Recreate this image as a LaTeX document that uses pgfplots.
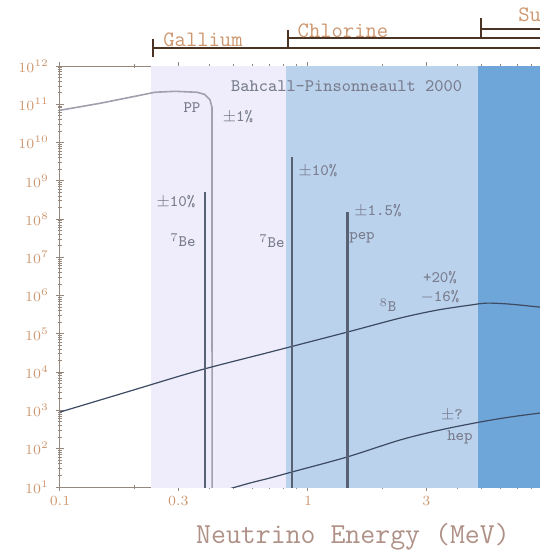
\documentclass[border=0pt]{standalone}
\usepackage{fontspec}
\usepackage{pgfplots}
\pgfplotsset{compat=1.18}

\definecolor{galband}{RGB}{239,237,251}
\definecolor{clband}{RGB}{187,210,237}
\definecolor{skband}{RGB}{111,166,218}
\definecolor{tanc}{RGB}{205,150,110}
\definecolor{brk}{RGB}{75,52,35}
\definecolor{spec}{RGB}{60,74,98}
\definecolor{ppc}{RGB}{160,160,174}
\definecolor{linec}{RGB}{88,98,116}
\definecolor{lab}{RGB}{120,124,140}
\definecolor{axc}{RGB}{150,135,125}
\definecolor{xlab}{RGB}{175,145,135}

\begin{document}
\begin{tikzpicture}
\useasboundingbox (-30pt,-33.5pt) rectangle (240pt,243.5pt);
\clip (-30pt,-33.5pt) rectangle (240pt,243.5pt);
\begin{axis}[
  scale only axis, width=240pt, height=210.5pt,
  xmode=log, ymode=log,
  xmin=0.1, xmax=8.62, ymin=10, ymax=1e12,
  axis x line=box, axis y line=left,
  axis line style={-, draw=axc, line width=0.5pt},
  xtick={0.1,0.3,1,3}, xticklabels={0.1,0.3,1,3},
  minor xtick={0.2,0.4,0.5,0.6,0.7,0.8,0.9,2,4,5,6,7,8},
  ytick={1e1,1e2,1e3,1e4,1e5,1e6,1e7,1e8,1e9,1e10,1e11,1e12},
  tick align=center,
  major tick length=4pt, minor tick length=2pt,
  tick style={draw=axc, line width=0.5pt},
  ticklabel style={text=tanc, font=\scriptsize},
  xticklabel style={yshift=1pt},
  clip=true,
]
% detector thresholds
\addplot[fill=galband, draw=none] coordinates {(0.233,1) (0.233,1e13) (0.814,1e13) (0.814,1)} -- cycle;
\addplot[fill=clband, draw=none] coordinates {(0.814,1) (0.814,1e13) (4.85,1e13) (4.85,1)} -- cycle;
\addplot[fill=skband, draw=none] coordinates {(4.85,1) (4.85,1e13) (20,1e13) (20,1)} -- cycle;

% pp continuum
\addplot[ppc, line width=0.8pt] coordinates {
 (0.1,6.97e10) (0.145,1.06e11) (0.1915,1.52e11) (0.2415,2.06e11)
 (0.2909,2.18e11) (0.3567,2.06e11) (0.3825,1.82e11) (0.4025,1.31e11)
 (0.4101,8.3e10) (0.4105,1)};

% 8B continuum
\addplot[spec, line width=0.6pt, smooth] coordinates {
 (0.1,908) (0.1915,3.21e3) (0.3668,1.13e4) (0.7029,3.35e4)
 (1.436,1.11e5) (2.350,2.59e5) (3.313,4.18e5) (4.499,5.65e5)
 (5.269,6.37e5) (6.523,6.0e5) (8.62,5.01e5)};

% hep continuum
\addplot[spec, line width=0.6pt, smooth] coordinates {
 (0.4627,8.3) (0.5834,12.7) (0.7029,17.2) (0.862,24.7)
 (1.436,60.7) (2.350,169) (3.406,308) (4.937,498)
 (6.523,673) (8.62,855)};

% line sources
\addplot[linec, line width=1.3pt] coordinates {(0.384,1) (0.384,5.0e8)};
\addplot[linec, line width=1.3pt] coordinates {(0.862,1) (0.862,4.2e9)};
\addplot[linec, line width=1.3pt] coordinates {(1.442,1) (1.442,1.5e8)};
\end{axis}

\begin{scope}[shift={(-30pt,243.5pt)}, x=0.5pt, y=-0.5pt]
  % threshold brackets
  \draw[brk, line width=0.8pt] (153,39) -- (153,57);
  \draw[brk, line width=0.8pt] (153,48) -- (545,48);
  \draw[brk, line width=0.8pt] (288,30) -- (288,47);
  \draw[brk, line width=0.8pt] (288,38) -- (545,38);
  \draw[brk, line width=1.2pt] (481,18) -- (481,39);
  \draw[brk, line width=0.8pt] (481,29) -- (545,29);
  \node[text=tanc, font=\fontsize{11}{12}\ttfamily] at (203,40) {Gallium};
  \node[text=tanc, font=\fontsize{11}{12}\ttfamily] at (343,31) {Chlorine};
  \node[text=tanc, font=\fontsize{11}{12}\ttfamily, anchor=west, inner sep=1pt] at (516,15) {Su};

  \node[text=lab, font=\fontsize{8.8}{10}\ttfamily, anchor=west] at (224,86) {Bahcall-Pinsonneault 2000};

  \begin{scope}[every node/.style={text=lab, font=\fontsize{8}{9}\ttfamily}]
    \node at (192,108) {PP};
    \node at (238,117) {$\pm$1\%};
    \node at (176,202) {$\pm$10\%};
    \node at (183,240) {$^7$Be};
    \node at (272,241) {$^7$Be};
    \node at (318,171) {$\pm$10\%};
    \node at (378,211) {$\pm$1.5\%};
    \node at (362,238) {pep};
    \node at (440,278) {+20\%};
    \node at (440,297) {$-$16\%};
    \node at (388,305) {$^8$B};
    \node at (452,415) {$\pm$?};
    \node at (460,437) {hep};
  \end{scope}

  \node[text=xlab, font=\fontsize{14.5}{16}\ttfamily] at (353,537) {Neutrino Energy (MeV)};
\end{scope}
\end{tikzpicture}
\end{document}
